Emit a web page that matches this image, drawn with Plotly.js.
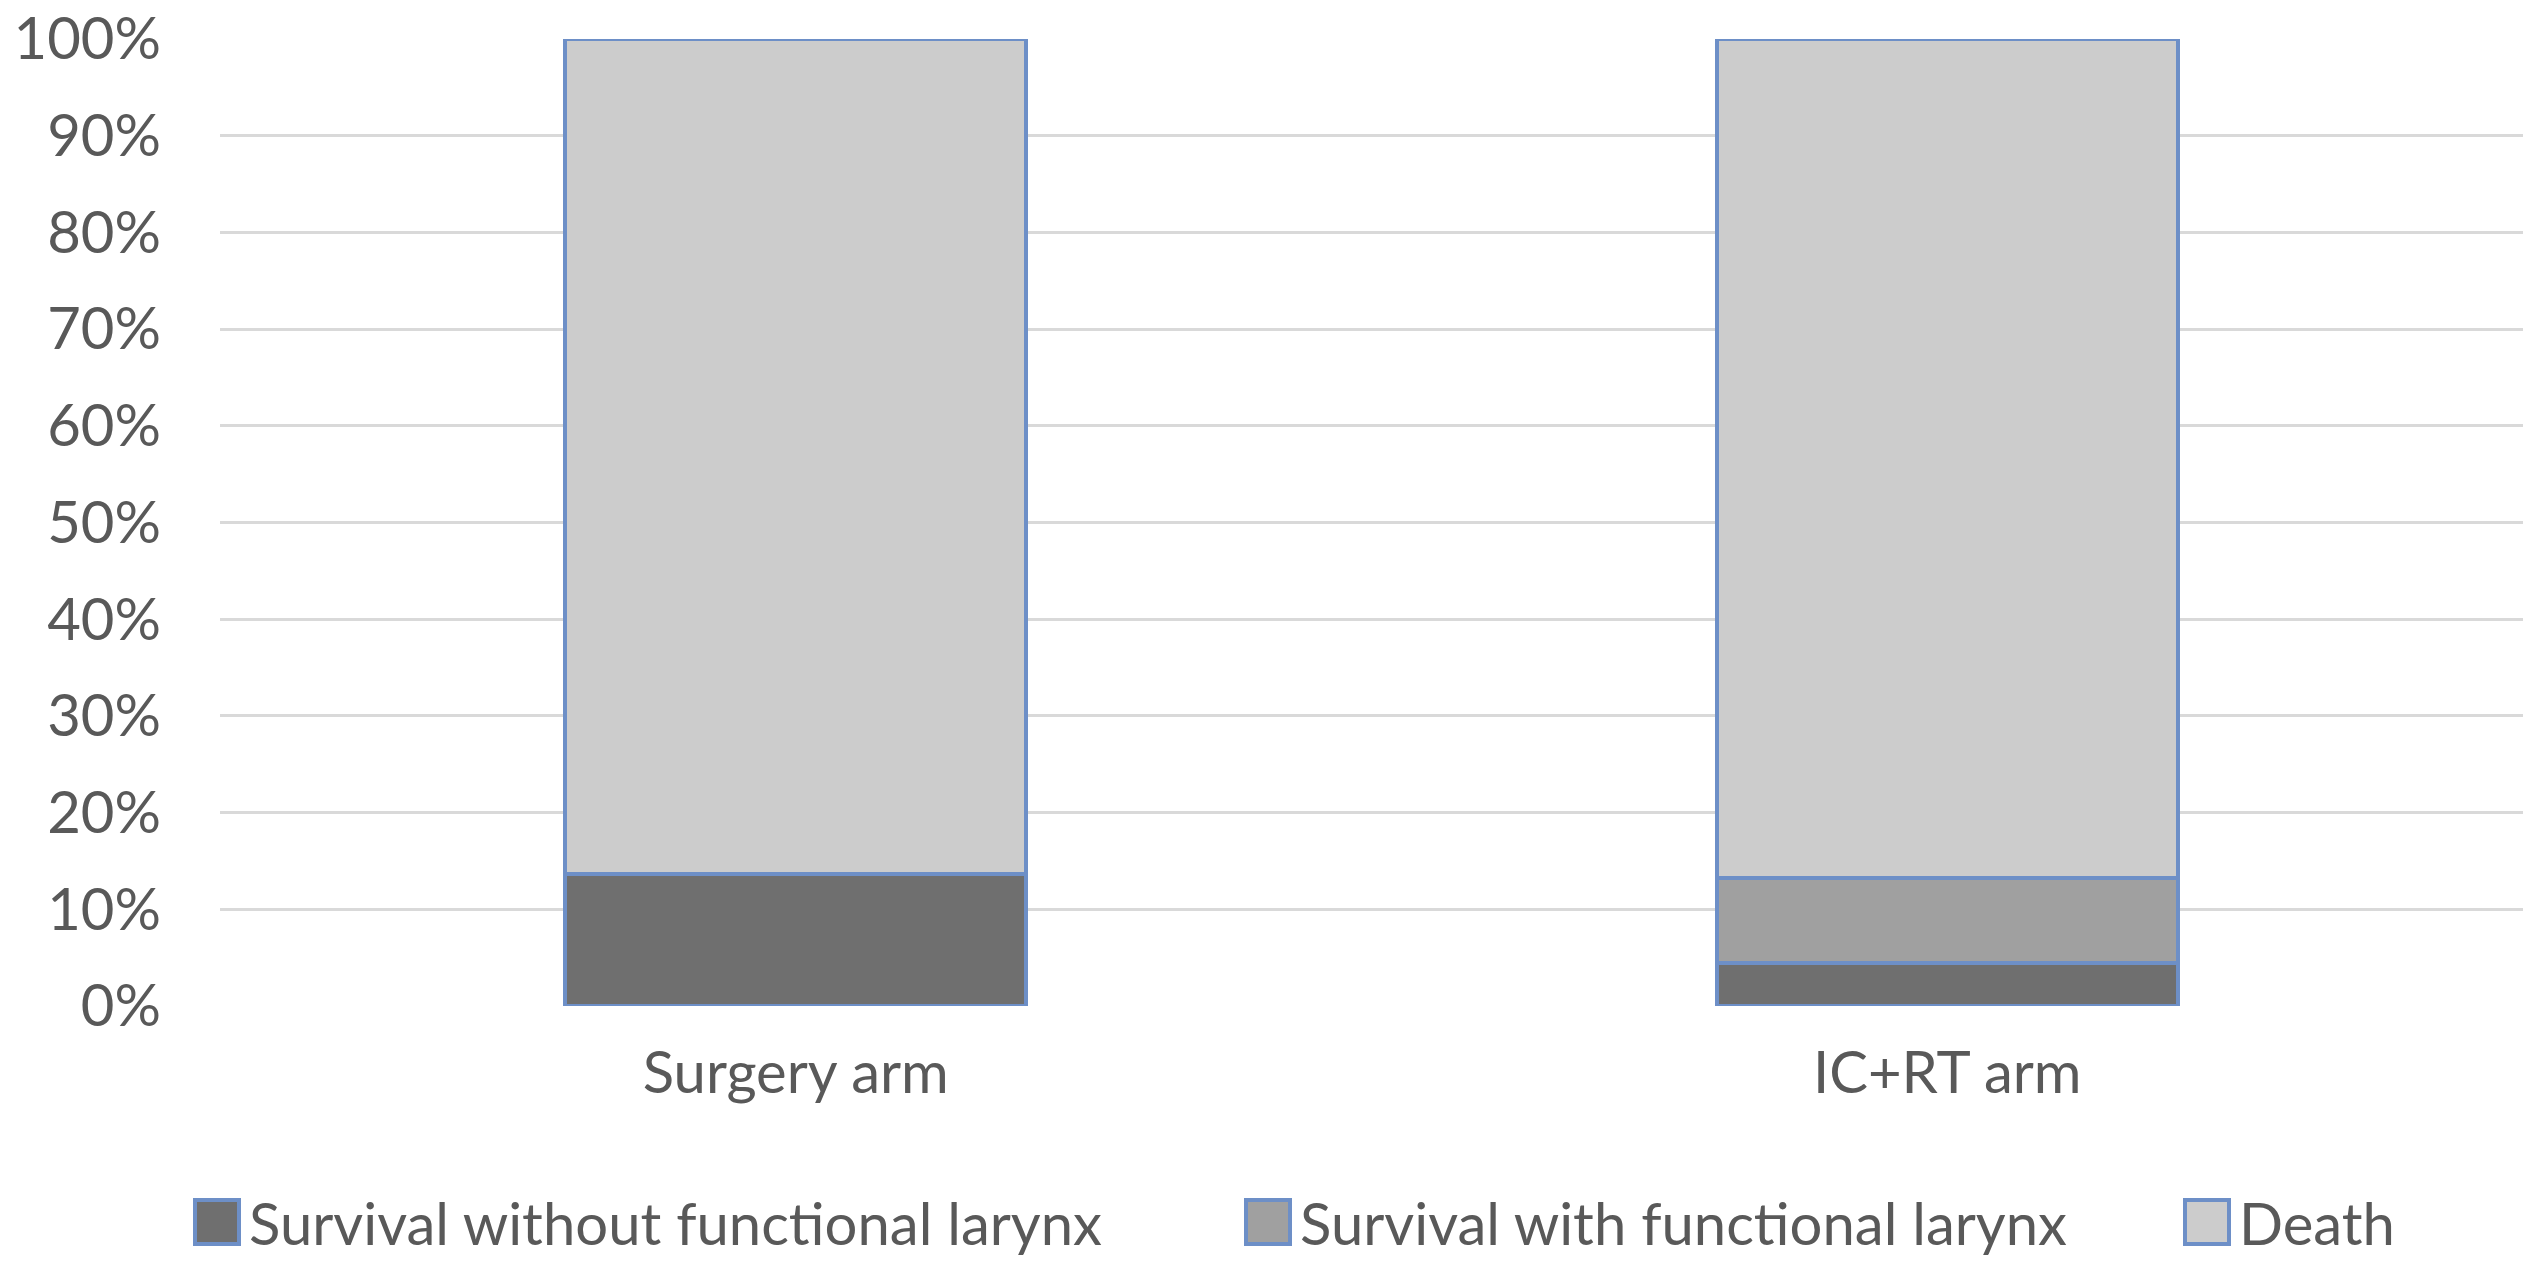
<!DOCTYPE html>
<html>
<head>
<meta charset="utf-8">
<script src="https://cdn.plot.ly/plotly-3.0.1.min.js"></script>
<style>html,body{margin:0;padding:0;background:#fff;}#chart{width:2538px;height:1263px;}</style>
</head>
<body>
<div id="chart"></div>
<script>
// ---- data ----
const categories = ['Surgery arm', 'IC+RT arm'];
const survivalWithoutLarynx = [13.6, 4.4];
const survivalWithLarynx = [0, 8.8];
const death = [86.4, 86.8];
const seriesNames = ['Survival without functional larynx', 'Survival with functional larynx', 'Death'];
const seriesColors = ['#6f6f6f', '#a0a0a0', '#cccccc'];
const yTicks = [0, 10, 20, 30, 40, 50, 60, 70, 80, 90, 100];

// ---- layout constants ----
const W = 2538, H = 1263;
const M = {l: 220, r: 15, t: 39, b: 257};
const PW = W - M.l - M.r, PH = H - M.t - M.b;
const outline = '#6d8fc7';
const textColor = '#595959';
const FONT = 'Lato, "Open Sans", sans-serif';
const FS = 58;

const px2x = p => (p - M.l) / PW;
const px2y = p => (H - M.b - p) / PH;

const seriesValues = [survivalWithoutLarynx, survivalWithLarynx, death];
const traces = seriesValues.map((vals, i) => ({
  type: 'bar',
  name: seriesNames[i],
  x: categories,
  y: vals,
  marker: {color: seriesColors[i], line: {color: outline, width: 4}},
  showlegend: false,
  hoverinfo: 'x+y+name'
}));

// custom legend (large swatches like the original)
const legendSwatchLeft = [195, 1246, 2185];
const shapes = [];
const annotations = [];
const swTop = 1200, swSize = 44;
seriesNames.forEach((n, i) => {
  shapes.push({
    type: 'rect', xref: 'paper', yref: 'paper',
    x0: px2x(legendSwatchLeft[i]), x1: px2x(legendSwatchLeft[i] + swSize),
    y0: px2y(swTop), y1: px2y(swTop + swSize),
    fillcolor: seriesColors[i], line: {color: outline, width: 4}
  });
  annotations.push({
    xref: 'paper', yref: 'paper',
    x: px2x(legendSwatchLeft[i] + swSize + 8), y: px2y(swTop + swSize / 2),
    xanchor: 'left', yanchor: 'middle', showarrow: false,
    text: n, font: {family: FONT, size: FS, color: textColor}
  });
});

const layout = {
  width: W, height: H,
  margin: M,
  paper_bgcolor: '#ffffff', plot_bgcolor: '#ffffff',
  barmode: 'stack',
  bargap: 0.6,
  showlegend: false,
  font: {family: FONT, size: FS, color: textColor},
  xaxis: {
    type: 'category',
    showgrid: false, zeroline: false, showline: false,
    ticks: '', ticklabelstandoff: 28,
    tickfont: {family: FONT, size: FS, color: textColor}
  },
  yaxis: {
    range: [0, 100],
    tickvals: yTicks,
    ticktext: yTicks.map(v => v + '%'),
    showgrid: true, gridcolor: '#d9d9d9', gridwidth: 3,
    zeroline: false, showline: false, ticks: '',
    ticklabelstandoff: 58,
    tickfont: {family: FONT, size: FS, color: textColor}
  },
  shapes: shapes,
  annotations: annotations
};

Plotly.newPlot('chart', traces, layout, {displayModeBar: false, staticPlot: true});
</script>
</body>
</html>
